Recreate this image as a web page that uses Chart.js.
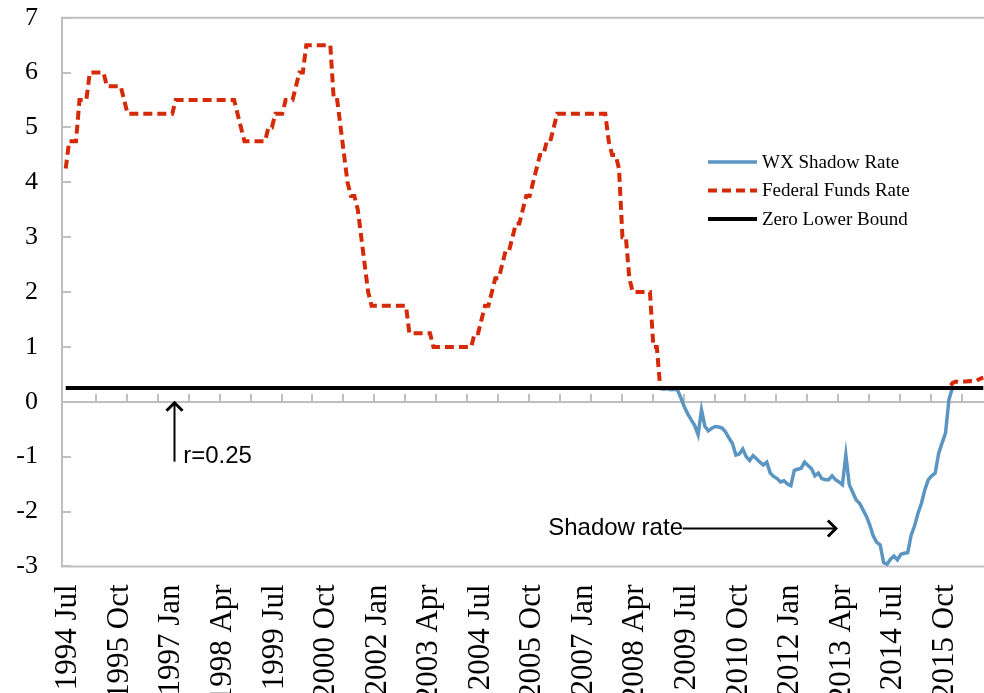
<!DOCTYPE html>
<html>
<head>
<meta charset="utf-8">
<title>WX Shadow Rate vs Federal Funds Rate</title>
<script src="https://cdn.jsdelivr.net/npm/chart.js@4.4.1/dist/chart.umd.min.js"></script>
<style>
  html, body { margin: 0; padding: 0; background: #fff; overflow: hidden; }
  #rateChart { display: block; }
</style>
</head>
<body>
<canvas id="rateChart" width="984" height="693"></canvas>
<script>
// ===== DATA =====
// monthly categories, 1994 Jul .. 2016 Oct
const firstYear = 1994;
const firstMonthIndex = 6; // Jul
const monthCount = 268;
const monthNames = ['Jan', 'Feb', 'Mar', 'Apr', 'May', 'Jun', 'Jul', 'Aug', 'Sep', 'Oct', 'Nov', 'Dec'];
const months = [];
for (let k = 0; k < monthCount; k++) {
    const m = firstMonthIndex + k;
    months.push((firstYear + Math.floor(m / 12)) + ' ' + monthNames[m % 12]);
}

const tickLabels = ['1994 Jul', '1995 Oct', '1997 Jan', '1998 Apr', '1999 Jul', '2000 Oct',
    '2002 Jan', '2003 Apr', '2004 Jul', '2005 Oct', '2007 Jan', '2008 Apr',
    '2009 Jul', '2010 Oct', '2012 Jan', '2013 Apr', '2014 Jul', '2015 Oct'];

// Federal funds rate, one row per year (1994 starts in Jul, 2016 ends in Oct)
const fedFundsRate = [
    4.25, 4.75, 4.75, 4.75, 5.5, 5.5,
    5.5, 6.0, 6.0, 6.0, 6.0, 6.0, 5.75, 5.75, 5.75, 5.75, 5.75, 5.5,
    5.25, 5.25, 5.25, 5.25, 5.25, 5.25, 5.25, 5.25, 5.25, 5.25, 5.25, 5.25,
    5.25, 5.25, 5.5, 5.5, 5.5, 5.5, 5.5, 5.5, 5.5, 5.5, 5.5, 5.5,
    5.5, 5.5, 5.5, 5.5, 5.5, 5.5, 5.5, 5.5, 5.25, 5.0, 4.75, 4.75,
    4.75, 4.75, 4.75, 4.75, 4.75, 5.0, 5.0, 5.25, 5.25, 5.25, 5.5, 5.5,
    5.5, 5.75, 6.0, 6.0, 6.5, 6.5, 6.5, 6.5, 6.5, 6.5, 6.5, 6.5,
    5.5, 5.5, 5.0, 4.5, 4.0, 3.75, 3.75, 3.5, 3.0, 2.5, 2.0, 1.75,
    1.75, 1.75, 1.75, 1.75, 1.75, 1.75, 1.75, 1.75, 1.75, 1.75, 1.25, 1.25,
    1.25, 1.25, 1.25, 1.25, 1.25, 1.0, 1.0, 1.0, 1.0, 1.0, 1.0, 1.0,
    1.0, 1.0, 1.0, 1.0, 1.0, 1.25, 1.25, 1.5, 1.75, 1.75, 2.0, 2.25,
    2.25, 2.5, 2.75, 2.75, 3.0, 3.25, 3.25, 3.5, 3.75, 3.75, 4.0, 4.25,
    4.5, 4.5, 4.75, 4.75, 5.0, 5.25, 5.25, 5.25, 5.25, 5.25, 5.25, 5.25,
    5.25, 5.25, 5.25, 5.25, 5.25, 5.25, 5.25, 5.25, 4.75, 4.5, 4.5, 4.25,
    3.0, 3.0, 2.25, 2.0, 2.0, 2.0, 2.0, 2.0, 2.0, 1.0, 1.0, 0.25,
    0.25, 0.25, 0.25, 0.25, 0.25, 0.25, 0.25, 0.25, 0.25, 0.25, 0.25, 0.25,
    0.25, 0.25, 0.25, 0.25, 0.25, 0.25, 0.25, 0.25, 0.25, 0.25, 0.25, 0.25,
    0.25, 0.25, 0.25, 0.25, 0.25, 0.25, 0.25, 0.25, 0.25, 0.25, 0.25, 0.25,
    0.25, 0.25, 0.25, 0.25, 0.25, 0.25, 0.25, 0.25, 0.25, 0.25, 0.25, 0.25,
    0.25, 0.25, 0.25, 0.25, 0.25, 0.25, 0.25, 0.25, 0.25, 0.25, 0.25, 0.25,
    0.25, 0.25, 0.25, 0.25, 0.25, 0.25, 0.25, 0.25, 0.25, 0.25, 0.25, 0.25,
    0.25, 0.25, 0.25, 0.25, 0.25, 0.25, 0.25, 0.25, 0.25, 0.25, 0.25, 0.25,
    0.34, 0.37, 0.36, 0.37, 0.37, 0.38, 0.37, 0.38, 0.42, 0.44
];

// Wu-Xia shadow rate, monthly from 2008 Dec
const shadowRateStart = '2008 Dec';
const shadowRate = [
    0.24,
    0.23, 0.24, 0.22, 0.23, 0.22, 0.07, -0.09, -0.22, -0.33, -0.43, -0.60, -0.15,
    -0.45, -0.53, -0.48, -0.45, -0.46, -0.48, -0.55, -0.66, -0.76, -0.97, -0.95, -0.86,
    -1.00, -1.07, -0.98, -1.04, -1.10, -1.15, -1.10, -1.30, -1.36, -1.40, -1.46, -1.44,
    -1.50, -1.53, -1.25, -1.23, -1.21, -1.10, -1.16, -1.22, -1.35, -1.30, -1.40, -1.42,
    -1.42, -1.35, -1.42, -1.46, -1.51, -0.97, -1.51, -1.65, -1.79, -1.85, -1.97, -2.09,
    -2.25, -2.45, -2.56, -2.61, -2.93, -2.96, -2.87, -2.81, -2.88, -2.78, -2.76, -2.75,
    -2.43, -2.26, -2.03, -1.85, -1.60, -1.42, -1.35, -1.30, -0.94, -0.75, -0.57, 0.04,
    0.25
];

const zeroLowerBound = 0.25;

(function() {
    'use strict';

    const SERIF = "'Liberation Serif', 'Times New Roman', serif";
    const SANS = "'Liberation Sans', Arial, sans-serif";
    const AXIS_GREY = '#BFBFBF';

    Chart.defaults.font.family = SERIF;
    Chart.defaults.color = '#000';

    // ===== FRAME, ZERO AXIS AND TICK MARKS =====
    const framePlugin = {
        id: 'frame',
        beforeDatasetsDraw(chart) {
            const { ctx, chartArea: a, scales: { x, y } } = chart;
            ctx.save();
            ctx.strokeStyle = AXIS_GREY;
            ctx.lineWidth = 2;
            ctx.beginPath();
            ctx.moveTo(a.right + 4, a.top);
            ctx.lineTo(a.left, a.top);
            ctx.lineTo(a.left, a.bottom);
            ctx.lineTo(a.right + 4, a.bottom);
            y.ticks.forEach(t => {
                const py = Math.round(y.getPixelForValue(t.value));
                ctx.moveTo(a.left, py);
                ctx.lineTo(a.left + 9, py);
            });
            const y0 = Math.round(y.getPixelForValue(0));
            ctx.moveTo(a.left, y0);
            ctx.lineTo(a.right + 4, y0);
            for (let k = 9 - 0.2; k < months.length; k += 9) {
                const px = Math.round(x.getPixelForValue(k));
                ctx.moveTo(px, y0);
                ctx.lineTo(px, y0 - 8);
            }
            ctx.stroke();
            ctx.restore();
        }
    };

    // ===== LEGEND (inside plot) =====
    const legendPlugin = {
        id: 'innerLegend',
        afterDraw(chart) {
            const ctx = chart.ctx;
            ctx.save();
            ctx.font = '19px ' + SERIF;
            ctx.textBaseline = 'middle';
            ctx.textAlign = 'left';
            chart.data.datasets.forEach((ds, row) => {
                const ly = 162 + row * 28.5;
                ctx.strokeStyle = ds.borderColor;
                ctx.lineWidth = ds.borderWidth;
                ctx.setLineDash(ds.borderDash || []);
                ctx.beginPath();
                ctx.moveTo(708, ly);
                ctx.lineTo(757, ly);
                ctx.stroke();
                ctx.setLineDash([]);
                ctx.fillStyle = '#000';
                ctx.fillText(ds.label, 762, ly + 1);
            });
            ctx.restore();
        }
    };

    // ===== ANNOTATIONS =====
    function arrowHead(ctx, tx, ty, dx, dy, size) {
        // open chevron pointing along (dx, dy)
        const len = Math.hypot(dx, dy);
        const ux = dx / len, uy = dy / len;
        ctx.beginPath();
        ctx.moveTo(tx - ux * size - uy * size, ty - uy * size + ux * size);
        ctx.lineTo(tx, ty);
        ctx.lineTo(tx - ux * size + uy * size, ty - uy * size - ux * size);
        ctx.stroke();
    }

    const notePlugin = {
        id: 'notes',
        afterDraw(chart) {
            const { ctx, scales: { x, y } } = chart;
            ctx.save();
            ctx.strokeStyle = '#000';
            ctx.fillStyle = '#000';
            ctx.font = '24px ' + SANS;
            ctx.textBaseline = 'middle';
            ctx.textAlign = 'left';

            // r=0.25 pointer
            const ax = Math.round(x.getPixelForValue(31.6)) + 0.5;
            const tipY = y.getPixelForValue(0) + 1;
            ctx.lineWidth = 2;
            ctx.beginPath();
            ctx.moveTo(ax, y.getPixelForValue(-1.09));
            ctx.lineTo(ax, tipY);
            ctx.stroke();
            ctx.lineWidth = 3;
            arrowHead(ctx, ax, tipY, 0, -1, 8);
            ctx.fillText('r=0.25', x.getPixelForValue(34.2), y.getPixelForValue(-1.0));

            // Shadow rate pointer
            const sy = Math.round(y.getPixelForValue(-2.30)) + 0.5;
            ctx.fillText('Shadow rate', x.getPixelForValue(140.4), sy);
            ctx.lineWidth = 1.8;
            ctx.beginPath();
            ctx.moveTo(x.getPixelForValue(179.5), sy);
            ctx.lineTo(x.getPixelForValue(224.1), sy);
            ctx.stroke();
            ctx.lineWidth = 3;
            arrowHead(ctx, x.getPixelForValue(224.1), sy, 1, 0, 8);
            ctx.restore();
        }
    };

    const shadowOffset = months.indexOf(shadowRateStart);

    document.addEventListener('DOMContentLoaded', function() {
        const canvas = document.getElementById('rateChart');
        const ctx = canvas.getContext('2d');

        new Chart(ctx, {
            type: 'line',
            data: {
                datasets: [
                    {
                        label: 'WX Shadow Rate',
                        data: shadowRate.map((v, k) => ({ x: shadowOffset + k, y: v })),
                        borderColor: '#5B96C2',
                        borderWidth: 3.5,
                        pointRadius: 0,
                        tension: 0,
                        order: 1
                    },
                    {
                        label: 'Federal Funds Rate',
                        data: fedFundsRate.map((v, i) => ({ x: i, y: v })),
                        borderColor: '#D42A08',
                        borderWidth: 4,
                        borderDash: [9, 5],
                        pointRadius: 0,
                        tension: 0,
                        order: 2
                    },
                    {
                        label: 'Zero Lower Bound',
                        data: [
                            { x: 0, y: zeroLowerBound },
                            { x: months.length - 1, y: zeroLowerBound }
                        ],
                        borderColor: '#000000',
                        borderWidth: 4,
                        pointRadius: 0,
                        tension: 0,
                        order: 0
                    }
                ]
            },
            options: {
                responsive: false,
                animation: false,
                devicePixelRatio: 1,
                layout: {
                    padding: { top: 17.7, left: 0, right: 0, bottom: 0 }
                },
                plugins: {
                    legend: { display: false },
                    tooltip: { enabled: false }
                },
                scales: {
                    x: {
                        type: 'linear',
                        min: -1.08,
                        max: 267.2,
                        bounds: 'data',
                        grid: { display: false, drawTicks: false },
                        border: { display: false },
                        afterBuildTicks: function(scale) {
                            scale.ticks = tickLabels.map(l => ({ value: months.indexOf(l) }));
                        },
                        afterFit: function(scale) {
                            scale.height = 126.6;
                            scale.paddingLeft = 0;
                            scale.paddingRight = 0;
                        },
                        ticks: {
                            autoSkip: false,
                            minRotation: 90,
                            maxRotation: 90,
                            padding: 18,
                            labelOffset: 2.5,
                            color: '#000',
                            font: { size: 31, family: SERIF },
                            callback: function(value) {
                                return months[value];
                            }
                        }
                    },
                    y: {
                        min: -3,
                        max: 7,
                        grid: { display: false, drawTicks: false },
                        border: { display: false },
                        afterFit: function(scale) {
                            scale.width = 62;
                            scale.paddingTop = 0;
                            scale.paddingBottom = 0;
                        },
                        ticks: {
                            stepSize: 1,
                            padding: 24,
                            color: '#000',
                            font: { size: 26, family: SERIF }
                        }
                    }
                }
            },
            plugins: [framePlugin, legendPlugin, notePlugin]
        });
    });

})();
</script>
</body>
</html>
